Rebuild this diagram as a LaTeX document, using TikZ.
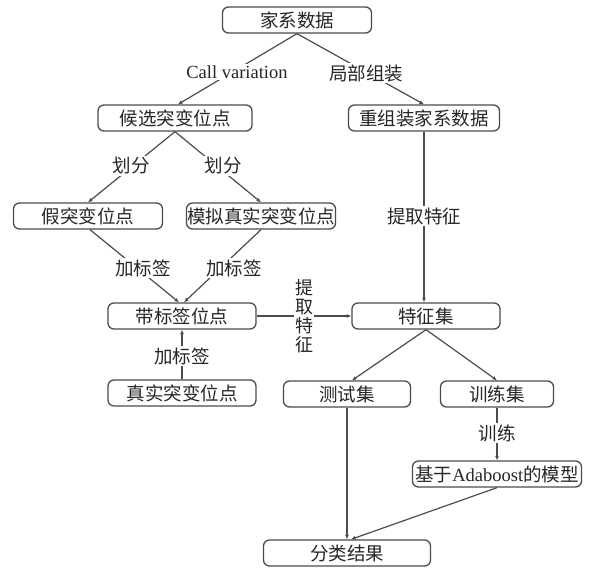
\documentclass[tikz,border=0pt]{standalone}
\usepackage{fontspec}
\setmainfont{Liberation Serif}
\newfontfamily\cjk{Noto Sans CJK SC}
\usetikzlibrary{arrows.meta}
\begin{document}
\begin{tikzpicture}[x=1pt,y=-1pt,
 box/.style={draw=black!70,line width=1.3pt,rounded corners=6pt,minimum height=26pt,inner sep=0pt,text=black!85,font=\cjk\fontsize{18.5}{21}\selectfont},
 lab/.style={fill=white,inner sep=1.5pt,text=black!85,font=\cjk\fontsize{18.5}{21}\selectfont},
 arr/.style={draw=black!70,line width=1.2pt,-{Latex[length=4.5pt,width=4pt]}}]
\useasboundingbox[fill=white] (0,0) rectangle (593,570);
% nodes
\node[box,minimum width=149pt] (jx) at (297,20) {家系数据};
\node[box,minimum width=154pt] (hx) at (175,118) {候选突变位点};
\node[box,minimum width=151pt] (cz) at (424,118) {重组装家系数据};
\node[box,minimum width=149pt] (jt) at (88,216) {假突变位点};
\node[box,minimum width=149pt] (mn) at (261,216) {模拟真实突变位点};
\node[box,minimum width=148pt] (db) at (182,316) {带标签位点};
\node[box,minimum width=148pt] (tz) at (426,316) {特征集};
\node[box,minimum width=148pt] (zs) at (182,393) {真实突变位点};
\node[box,minimum width=127pt] (cs) at (347,394) {测试集};
\node[box,minimum width=113pt] (xl) at (497,394) {训练集};
\node[box,minimum width=169pt] (md) at (497,474) {基于{\rmfamily Adaboost}的模型};
\node[box,minimum width=167pt] (fl) at (347,553) {分类结果};
% connectors
\draw[arr] (jx.south) -- ([xshift=3pt]hx.north);
\draw[arr] (jx.south) -- (cz.north);
\draw[arr] (hx.south) -- (jt.north);
\draw[arr] (hx.south) -- (mn.north);
\draw[arr] ([xshift=2pt]jt.south) -- ([xshift=-3pt]db.north);
\draw[arr] (mn.south) -- ([xshift=2pt]db.north);
\draw[arr] (zs.north) -- (db.south);
\draw[arr] (db.east) -- (tz.west);
\draw[arr] (cz.south) -- (cz.south |- tz.north);
\draw[arr] (tz.south) -- ([xshift=5pt]cs.north);
\draw[arr] (tz.south) -- (xl.north);
\draw[arr] (xl.south) -- (md.north);
\draw[arr] (cs.south) -- (fl.north);
\draw[arr] (md.south) -- ([xshift=4pt]fl.north);
% labels
\node[lab] (l1) at (237,72) {\rmfamily Call variation};
\node[lab] (l2) at (366,73) {局部组装};
\node[lab] (l3) at (131,166) {划分};
\node[lab] (l4) at (223,166) {划分};
\node[lab] (l5) at (143,268) {加标签};
\node[lab] (l6) at (234,268) {加标签};
\node[lab] (l7) at (182,356) {加标签};
\node[lab,align=center,inner sep=1pt,font=\cjk\fontsize{18}{19}\selectfont] (l8) at (304,316) {提\\取\\特\\征};
\node[lab] (l9) at (424,216) {提取特征};
\node[lab] (l10) at (497,433) {训练};
\end{tikzpicture}
\end{document}
